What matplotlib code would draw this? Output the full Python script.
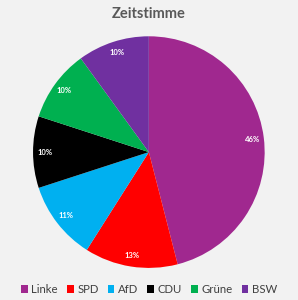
import matplotlib
matplotlib.use("Agg")
import matplotlib.pyplot as plt
from matplotlib.patches import Patch

parties = ["Linke", "SPD", "AfD", "CDU", "Grüne", "BSW"]
shares = [46, 13, 11, 10, 10, 10]
colors = ["#A0288F", "#FF0000", "#00B0F0", "#000000", "#00B050", "#7030A0"]

plt.rcParams["font.family"] = ["Lato", "DejaVu Sans"]

fig = plt.figure(figsize=(2.98, 3.0), dpi=100, facecolor="#F2F2F2")
ax = fig.add_axes([0.107, 0.103, 0.785, 0.78])
ax.set_facecolor("#F2F2F2")

wedges, texts, autotexts = ax.pie(
    shares, colors=colors, startangle=90, counterclock=False,
    autopct="%d%%", pctdistance=0.9,
    wedgeprops=dict(linewidth=0),
    textprops=dict(color="white", fontsize=5.5, fontweight="bold"),
)
ax.set_aspect("equal")
ax.set_xlim(-1.01, 1.01)
ax.set_ylim(-1.01, 1.01)

fig.text(0.5, 0.953, "Zeitstimme", ha="center", va="center",
         fontsize=10.5, fontweight="bold", color="#595959")

handles = [Patch(facecolor=c, edgecolor="none") for c in colors]
fig.legend(handles, parties, loc="center", bbox_to_anchor=(0.5, 0.035),
           ncol=6, frameon=False, fontsize=8.2, handlelength=0.6,
           handleheight=0.6, handletextpad=0.3, columnspacing=0.8,
           labelcolor="#404040")

fig.savefig("out.png", dpi=100, facecolor=fig.get_facecolor())
